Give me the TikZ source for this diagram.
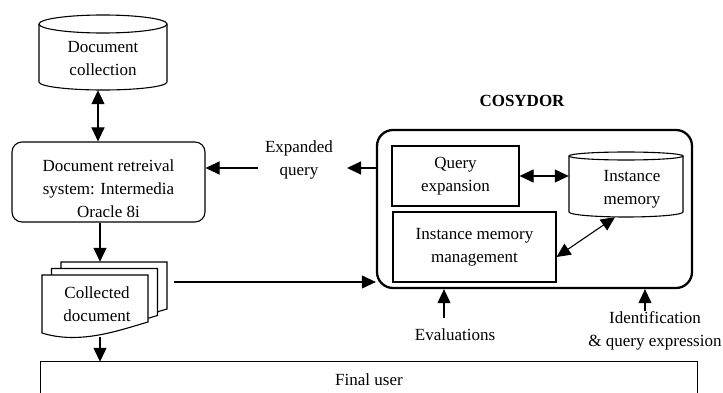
\documentclass[tikz,border=0pt]{standalone}
\usepackage{fontspec}
\setmainfont{Liberation Serif}
\usetikzlibrary{arrows.meta}
\begin{document}
\begin{tikzpicture}[x=1pt,y=1pt,
  every node/.style={font=\fontsize{17}{23}\selectfont, align=center, inner sep=0pt},
  shapeline/.style={line width=1.1pt},
  tip/.tip={Triangle[length=14pt,width=13pt]},
  arr/.style={line width=1.1pt, -tip},
  darr/.style={line width=1.1pt, tip-tip},
  plainbox/.style={draw, shapeline},
  sheet/.style={shapeline, fill=white}]
\useasboundingbox (0,0) rectangle (723,-393);

% Document collection (cylinder)
\draw[shapeline, fill=white] (39,-24) -- (39,-82) arc[start angle=180,end angle=360,x radius=64,y radius=8] -- (167,-24);
\draw[shapeline] (103,-24) ellipse[x radius=64,y radius=9];
\node[minimum width=128, minimum height=75] (dc) at (103,-52.5) {};
\node (dct) at (103,-58.5) {Document\\collection};

% Document retrieval system
\node[plainbox, rounded corners=10pt, minimum width=193, minimum height=80] (rbox) at (108.5,-182) {};
\node (rboxt) at (108.5,-189) {Document retreival\\system: Intermedia\\Oracle 8i};

% Collected document (stack of sheets)
\foreach \s in {19,9.5,0}{
  \draw[sheet, shift={(\s,0.6842*\s)}] (42,-275) -- (148,-275) -- (148,-322)
     .. controls (120,-330) and (80,-345) .. (42,-333) -- cycle;
}
\node[minimum width=116, minimum height=75] (cd) at (100,-299.5) {};
\node (cdt) at (97,-304) {Collected\\document};

% Final user
\node[minimum width=656, minimum height=40] (fu) at (369,-382) {};
\draw[shapeline] (fu.south west) -- (fu.north west) -- (fu.north east) -- (fu.south east);
\node (fut) at (369,-380) {Final user};

% COSYDOR
\node[draw, line width=2.3pt, rounded corners=16pt, minimum width=315, minimum height=158] (cos) at (534.5,-209) {};
\node[font=\fontsize{17}{23}\selectfont\bfseries] (cost) at (522,-101) {COSYDOR};

\node[plainbox, minimum width=127, minimum height=60] (qe) at (455.5,-176) {Query\\expansion};

% Instance memory (cylinder)
\draw[shapeline, fill=white] (569,-156) -- (569,-212) arc[start angle=180,end angle=360,x radius=57,y radius=5] -- (683,-156);
\draw[shapeline] (626,-156) ellipse[x radius=57,y radius=4];
\node[minimum width=114, minimum height=65] (im) at (626,-184.5) {};
\node (imt) at (632,-189.5) {Instance\\memory};

\node[plainbox, minimum width=163, minimum height=70] (imm) at (474.5,-247) {Instance memory\\management};

% Labels
\node (eq) at (299,-160) {Expanded\\query};
\node (ev) at (455,-335) {Evaluations};
\node (id) at (655,-331) {Identification\\\& query expression};

% Helper coordinates
\coordinate (ax) at (98,0);
\coordinate (eqa) at (347,-168);
\coordinate (eqb) at (258,-168);
\coordinate (cdr) at (174,-282);
\coordinate (eva) at (444,-318);
\coordinate (ida) at (645,-311);

% Connectors
\draw[darr] (dc.south -| ax) -- (rbox.north -| ax);
\draw[arr] (rbox.south -| cd.north) -- (cd.north);
\draw[arr] (cd.south) -- (fu.north -| cd.south);
\draw[arr] (cdr) -- (cos.west |- cdr);
\draw[arr] (cos.west |- eqa) -- (eqa);
\draw[arr] (eqb) -- (rbox.east |- eqb);
\draw[darr] (qe.east) -- (im.west |- qe.east);
\draw[darr] ([yshift=-10pt]imm.east) -- ([xshift=-11pt]im.south);
\draw[arr] (eva) -- (cos.south -| eva);
\draw[arr] (ida) -- (cos.south -| ida);
\end{tikzpicture}
\end{document}
